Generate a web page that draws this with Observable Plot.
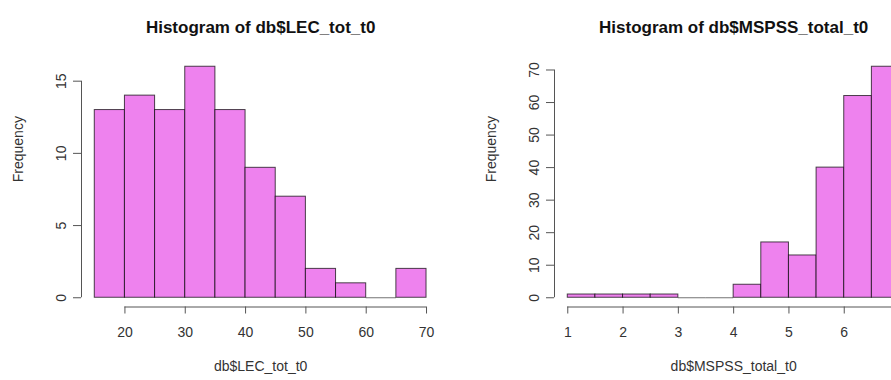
<!DOCTYPE html>
<html><head><meta charset="utf-8">
<script src="https://cdn.jsdelivr.net/npm/d3@7"></script>
<script src="https://cdn.jsdelivr.net/npm/@observablehq/plot@0.6"></script>
<style>
body{margin:0;background:#fff;}
#wrap{position:relative;width:891px;height:380px;overflow:hidden;background:#fff;}
#wrap > div{position:absolute;top:0;width:475px;height:380px;}
#wrap svg{max-width:none !important;}
</style></head><body>
<div id="wrap"><div id="p1" style="left:0px"></div><div id="p2" style="left:473.3px"></div></div>
<script>
// Left histogram: db$LEC_tot_t0
const lecBreaks = [15, 20, 25, 30, 35, 40, 45, 50, 55, 60, 65, 70];
const lecCounts = [13, 14, 13, 16, 13, 9, 7, 2, 1, 0, 2];
const lecXTicks = [20, 30, 40, 50, 60, 70];
const lecYTicks = [0, 5, 10, 15];
const lecTitle = "Histogram of db$LEC_tot_t0";
const lecXLabel = "db$LEC_tot_t0";

// Right histogram: db$MSPSS_total_t0 (cut off at the right edge in the reference)
const mspssBreaks = [1, 1.5, 2, 2.5, 3, 3.5, 4, 4.5, 5, 5.5, 6, 6.5, 7];
const mspssCounts = [1, 1, 1, 1, 0, 0, 4, 17, 13, 40, 62, 71];
const mspssXTicks = [1, 2, 3, 4, 5, 6];
const mspssYTicks = [0, 10, 20, 30, 40, 50, 60, 70];
const mspssTitle = "Histogram of db$MSPSS_total_t0";
const mspssXLabel = "db$MSPSS_total_t0";

const yLabel = "Frequency";
const FONT = "'Liberation Sans', Arial, Helvetica, sans-serif";

function hist(breaks, counts, xTicks, yTicks, title, xlab) {
  const bins = counts.map((c, i) => ({x1: breaks[i], x2: breaks[i + 1], c}));
  const lo = breaks[0], hi = breaks[breaks.length - 1];
  const xr = hi - lo;
  const xdom = [lo - 0.04 * xr, hi + 0.04 * xr];
  const ymax = d3.max(counts);
  const ydom = [-0.04 * ymax, 1.04 * ymax];
  const axisEnd = Math.max(hi, xTicks[xTicks.length - 1]);
  return Plot.plot({
    width: 475,
    height: 380,
    marginLeft: 81,
    marginRight: 35.7,
    marginTop: 57,
    marginBottom: 73.5,
    x: {domain: xdom},
    y: {domain: ydom},
    style: {fontFamily: FONT, fontSize: "14px", color: "#333", background: "white", maxWidth: "none"},
    marks: [
      Plot.rectY(bins.filter(d => d.c > 0), {x1: "x1", x2: "x2", y1: 0, y2: "c", fill: "violet", stroke: "#000", strokeOpacity: 0.7, strokeWidth: 1}),
      Plot.ruleY(bins.filter(d => d.c === 0), {y: "c", x1: "x1", x2: "x2", stroke: "#000", strokeOpacity: 0.55}),
      Plot.ruleY([ydom[0]], {x1: xTicks[0], x2: axisEnd, stroke: "#555"}),
      Plot.ruleX([xdom[0]], {y1: yTicks[0], y2: yTicks[yTicks.length - 1], stroke: "#555"}),
      Plot.axisX({ticks: xTicks, tickFormat: d => String(d), tickSize: 7, tickPadding: 13, label: null, fontSize: 14, stroke: "#555"}),
      Plot.axisY({ticks: yTicks, tickFormat: d => String(d), tickSize: 8, tickRotate: -90, tickPadding: 8, label: null, fontSize: 14, stroke: "#555"}),
      Plot.text([title], {frameAnchor: "top", dy: -37, fontWeight: "bold", fontSize: 17, fill: "#111"}),
      Plot.text([xlab], {frameAnchor: "bottom", dy: 63.5, fontSize: 14, fill: "#333"}),
      Plot.text([yLabel], {frameAnchor: "left", dx: -63, rotate: -90, fontSize: 14, fill: "#333"})
    ]
  });
}

document.getElementById("p1").append(hist(lecBreaks, lecCounts, lecXTicks, lecYTicks, lecTitle, lecXLabel));
document.getElementById("p2").append(hist(mspssBreaks, mspssCounts, mspssXTicks, mspssYTicks, mspssTitle, mspssXLabel));
</script>
</body></html>
